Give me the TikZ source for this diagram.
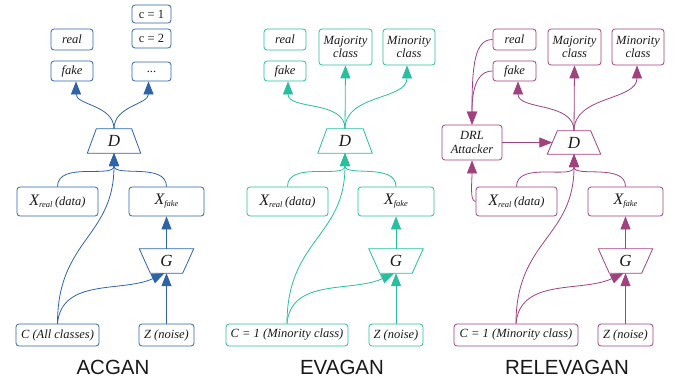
\documentclass[tikz,border=0pt]{standalone}
\usepackage{fontspec}
\setmainfont{Liberation Serif}
\newfontfamily\titlefont{Liberation Sans}
\usetikzlibrary{arrows.meta}
\definecolor{cA}{RGB}{46,100,166}
\definecolor{cE}{RGB}{40,190,158}
\definecolor{cR}{RGB}{160,66,128}
\definecolor{txt}{RGB}{25,25,25}
\newcommand{\XrealTxt}{{\fontsize{16}{16}\selectfont X}{\fontsize{8.5}{8.5}\selectfont\raisebox{-2pt}{real}}\hspace{2.5pt}(data)}
\newcommand{\XfakeTxt}{{\fontsize{16}{16}\selectfont X}{\fontsize{8.5}{8.5}\selectfont\raisebox{-2pt}{fake}}}
\begin{document}
\begin{tikzpicture}[x=1pt,y=1pt,
  box/.style={draw, rounded corners=3pt, line width=0.8pt, inner sep=0pt, align=center, text=txt,
    font=\fontsize{12.5}{13.5}\selectfont\itshape},
  ubox/.style={box, font=\fontsize{12.5}{13.5}\selectfont},
  wh/.style 2 args={minimum width=#1pt, minimum height=#2pt},
  tz/.style={inner sep=0pt, minimum height=24pt, text=txt, font=\fontsize{17}{17}\selectfont\itshape},
  arr/.style={line width=0.8pt, -{Triangle[length=13pt,width=10pt]}},
  ln/.style={line width=0.8pt},
  ttl/.style={anchor=base, text=txt, font=\titlefont\fontsize{20.5}{20.5}\selectfont},
]
\useasboundingbox (0,0) rectangle (677,-383);

% ================= ACGAN =================
\begin{scope}[cA]
\node[box, wh={42}{21}] (a-real) at (72,-39.5) {real};
\node[box, wh={42}{20}] (a-fake) at (72,-71) {fake};
\node[ubox, wh={39}{18}] (a-c1) at (151.5,-14) {c = 1};
\node[ubox, wh={39}{19}] (a-c2) at (151.5,-38.5) {c = 2};
\node[ubox, wh={39}{19}] (a-dots) at (151.5,-71.5) {...};
\node[tz, minimum width=53pt] (a-D) at (114,-141) {D};
\draw[ln] ([xshift=9pt]a-D.north west) -- ([xshift=-9pt]a-D.north east) -- (a-D.south east) -- (a-D.south west) -- cycle;
\node[box, wh={81}{29}] (a-xr) at (57.5,-201.5) {\XrealTxt};
\node[box, wh={75}{29}] (a-xf) at (166.5,-201.5) {\XfakeTxt};
\node[tz, minimum width=54pt] (a-G) at (166.5,-261) {G};
\draw[ln] (a-G.north west) -- (a-G.north east) -- ([xshift=-11pt]a-G.south east) -- ([xshift=11pt]a-G.south west) -- cycle;
\node[box, wh={83}{22}] (a-c) at (57.5,-335) {C (All classes)};
\node[box, wh={55}{22}] (a-z) at (166.5,-335) {Z (noise)};
\node[ttl] (a-t) at (113,-374) {ACGAN};
\draw[arr] (a-D.north) to[out=90,in=-90] ([xshift=4pt]a-fake.south);
\draw[arr] (a-D.north) to[out=90,in=-90] ([xshift=-3pt]a-dots.south);
\draw[arr] (a-xr.north) to[out=90,in=-90] (a-D.south);
\draw[arr] (a-xf.north) to[out=90,in=-90] (a-D.south);
\draw[arr] (a-c.north) to[out=90,in=-90,looseness=1.2] (a-D.south);
\draw[arr] (a-z.north) -- (a-G.south);
\draw[arr] (a-c.north) to[out=85,in=205] ([xshift=-2pt]a-G.south);
\draw[arr] (a-G.north) -- (a-xf.south);
\end{scope}

% ================= EVAGAN =================
\begin{scope}[cE]
\node[box, wh={42}{21}] (e-real) at (285,-39.5) {real};
\node[box, wh={42}{20}] (e-fake) at (285,-71) {fake};
\node[box, wh={53}{36}] (e-maj) at (345.5,-47) {Majority\\class};
\node[box, wh={52}{36}] (e-min) at (409,-47) {Minority\\class};
\node[tz, minimum width=54pt] (e-D) at (345,-141) {D};
\draw[ln] ([xshift=9pt]e-D.north west) -- ([xshift=-9pt]e-D.north east) -- (e-D.south east) -- (e-D.south west) -- cycle;
\node[box, wh={81}{29}] (e-xr) at (287.5,-201.5) {\XrealTxt};
\node[box, wh={76}{29}] (e-xf) at (396,-201.5) {\XfakeTxt};
\node[tz, minimum width=54pt] (e-G) at (396,-261) {G};
\draw[ln] (e-G.north west) -- (e-G.north east) -- ([xshift=-11pt]e-G.south east) -- ([xshift=11pt]e-G.south west) -- cycle;
\node[box, wh={122}{22}] (e-c) at (287,-335) {C = 1 (Minority class)};
\node[box, wh={54}{22}] (e-z) at (396,-335) {Z (noise)};
\node[ttl] (e-t) at (342,-374) {EVAGAN};
\draw[arr] (e-D.north) to[out=90,in=-90] ([xshift=3pt]e-fake.south);
\draw[arr] (e-D.north) -- (e-maj.south);
\draw[arr] (e-D.north) to[out=90,in=-90] ([xshift=-2pt]e-min.south);
\draw[arr] (e-xr.north) to[out=90,in=-90] (e-D.south);
\draw[arr] (e-xf.north) to[out=90,in=-90] (e-D.south);
\draw[arr] (e-c.north) to[out=90,in=-90,looseness=1.2] (e-D.south);
\draw[arr] (e-z.north) -- (e-G.south);
\draw[arr] (e-c.north) to[out=85,in=205] ([xshift=-2pt]e-G.south);
\draw[arr] (e-G.north) -- (e-xf.south);
\end{scope}

% ================= RELEVAGAN =================
\begin{scope}[cR]
\node[box, wh={43}{21}] (r-real) at (514.5,-39.5) {real};
\node[box, wh={43}{20}] (r-fake) at (514.5,-71) {fake};
\node[box, wh={53}{36}] (r-maj) at (574.5,-47) {Majority\\class};
\node[box, wh={52}{36}] (r-min) at (638,-47) {Minority\\class};
\node[box, wh={60}{35}] (r-drl) at (472,-142.5) {DRL\\Attacker};
\node[tz, minimum width=53pt, minimum height=23pt] (r-D) at (574,-142.5) {D};
\draw[ln] ([xshift=10pt]r-D.north west) -- ([xshift=-10pt]r-D.north east) -- (r-D.south east) -- (r-D.south west) -- cycle;
\node[box, wh={81}{29}] (r-xr) at (516.5,-201.5) {\XrealTxt};
\node[box, wh={75}{29}] (r-xf) at (625.5,-201.5) {\XfakeTxt};
\node[tz, minimum width=54pt] (r-G) at (625.5,-261) {G};
\draw[ln] (r-G.north west) -- (r-G.north east) -- ([xshift=-11pt]r-G.south east) -- ([xshift=11pt]r-G.south west) -- cycle;
\node[box, wh={124}{22}] (r-c) at (516,-335) {C = 1 (Minority class)};
\node[box, wh={55}{22}] (r-z) at (625.5,-335) {Z (noise)};
\node[ttl] (r-t) at (567,-374) {RELEVAGAN};
\draw[arr] (r-D.north) to[out=90,in=-90] ([xshift=3.5pt]r-fake.south);
\draw[arr] (r-D.north) -- (r-maj.south);
\draw[arr] (r-D.north) to[out=90,in=-90] ([xshift=-1pt]r-min.south);
\draw[arr] (r-xr.north) to[out=90,in=-90] (r-D.south);
\draw[arr] (r-xf.north) to[out=90,in=-90] (r-D.south);
\draw[arr] (r-c.north) to[out=90,in=-90,looseness=1.2] (r-D.south);
\draw[arr] (r-z.north) -- (r-G.south);
\draw[arr] (r-c.north) to[out=85,in=205] ([xshift=-2pt]r-G.south);
\draw[arr] (r-G.north) -- (r-xf.south);
\draw[arr] (r-real.west) .. controls +(-18,0) and +(0,60) .. (r-drl.north);
\draw[arr] (r-fake.west) .. controls +(-18,0) and +(0,30) .. (r-drl.north);
\draw[arr] (r-xr.west) .. controls +(-6,0) and +(0,-22) .. (r-drl.south);
\draw[arr] (r-drl.east) -- ([xshift=5pt]r-D.west);
\end{scope}
\end{tikzpicture}
\end{document}
